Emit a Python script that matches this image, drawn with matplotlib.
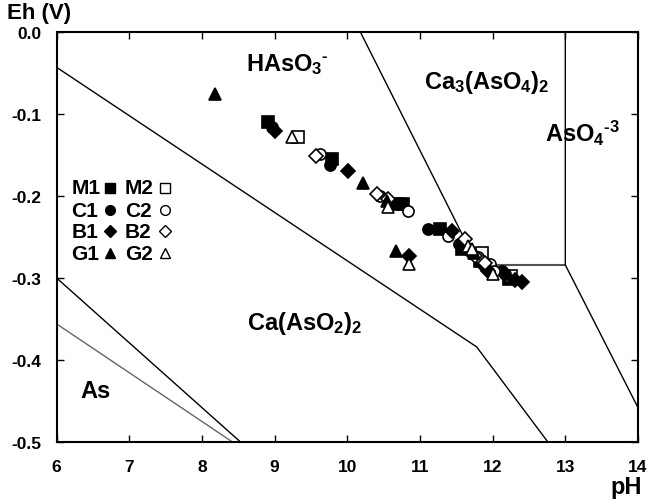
import matplotlib
matplotlib.use("Agg")
import matplotlib.pyplot as plt

plt.rcParams['font.family'] = ['Liberation Sans', 'DejaVu Sans']
plt.rcParams['font.weight'] = 'bold'
plt.rcParams['axes.unicode_minus'] = False
plt.rcParams['mathtext.fontset'] = 'custom'
plt.rcParams['mathtext.rm'] = 'Liberation Sans:bold'
plt.rcParams['mathtext.it'] = 'Liberation Sans:bold'
plt.rcParams['mathtext.bf'] = 'Liberation Sans:bold'
plt.rcParams['mathtext.default'] = 'rm'

# Messpunkte (pH, Eh) je Probe
m1_ph = [8.91, 9.79, 10.69, 10.77, 11.28, 11.58, 11.83, 12.22]
m1_eh = [-0.110, -0.155, -0.210, -0.210, -0.240, -0.265, -0.279, -0.301]
m2_ph = [9.32, 11.85, 12.25]
m2_eh = [-0.128, -0.270, -0.298]
c1_ph = [8.97, 9.76, 11.11, 11.53, 12.13, 12.17]
c1_eh = [-0.116, -0.162, -0.240, -0.259, -0.291, -0.295]
c2_ph = [9.63, 10.45, 10.84, 11.39, 11.80, 11.97, 12.02]
c2_eh = [-0.149, -0.200, -0.218, -0.249, -0.274, -0.283, -0.291]
b1_ph = [9.01, 10.01, 10.85, 11.44, 11.69, 11.89, 11.93, 12.31, 12.41]
b1_eh = [-0.121, -0.170, -0.273, -0.243, -0.268, -0.287, -0.291, -0.302, -0.305]
b2_ph = [9.57, 10.41, 10.56, 11.62, 11.76, 11.90]
b2_eh = [-0.151, -0.198, -0.204, -0.252, -0.273, -0.282]
g1_ph = [8.18, 10.22, 10.55, 10.67, 11.75]
g1_eh = [-0.076, -0.184, -0.206, -0.267, -0.270]
g2_ph = [9.24, 10.56, 10.85, 11.66, 11.72, 12.00]
g2_eh = [-0.128, -0.213, -0.283, -0.261, -0.265, -0.295]

# Stabilitaetsgrenzen
line_a_ph = [6, 11.78, 12.76]
line_a_eh = [-0.043, -0.384, -0.5]
line_b_ph = [6, 8.53]
line_b_eh = [-0.3, -0.5]
line_c_ph = [6, 8.42]
line_c_eh = [-0.356, -0.5]
line_d_ph = [10.18, 11.6, 11.98]
line_d_eh = [0.0, -0.25, -0.284]
line_e_ph = [11.98, 13.0]
line_e_eh = [-0.284, -0.284]
line_f_ph = [13.0, 13.0, 14.0]
line_f_eh = [0.0, -0.284, -0.458]

fig = plt.figure(figsize=(6.5, 5.02), dpi=100)
ax = fig.add_axes([0.0872, 0.1175, 0.8943, 0.8165])

ax.plot(line_a_ph, line_a_eh, color="black", lw=1.0)
ax.plot(line_b_ph, line_b_eh, color="black", lw=1.0)
ax.plot(line_c_ph, line_c_eh, color="#666666", lw=1.0)
ax.plot(line_d_ph, line_d_eh, color="black", lw=1.0)
ax.plot(line_e_ph, line_e_eh, color="#555555", lw=1.5)
ax.plot(line_f_ph, line_f_eh, color="black", lw=1.0)

series = [
    ("M1", m1_ph, m1_eh, "s", "black"),
    ("M2", m2_ph, m2_eh, "s", "white"),
    ("C1", c1_ph, c1_eh, "o", "black"),
    ("C2", c2_ph, c2_eh, "o", "white"),
    ("B1", b1_ph, b1_eh, "D", "black"),
    ("B2", b2_ph, b2_eh, "D", "white"),
    ("G1", g1_ph, g1_eh, "^", "black"),
    ("G2", g2_ph, g2_eh, "^", "white"),
]
for name, xs, ys, mk, fc in series:
    size = 7 if mk == "D" else 8
    ax.plot(xs, ys, linestyle="none", marker=mk, markersize=size,
            markerfacecolor=fc, markeredgecolor="black", markeredgewidth=1.2, zorder=3)

# Legende von Hand, zwei Spalten
leg_rows = [-0.190, -0.217, -0.243, -0.270]
for i, (name, xs, ys, mk, fc) in enumerate(series):
    col = i % 2
    row = i // 2
    x_txt = 6.20 if col == 0 else 6.94
    x_mk = 6.73 if col == 0 else 7.49
    ax.text(x_txt, leg_rows[row], name, fontsize=15, fontweight="bold", ha="left", va="center")
    ax.plot([x_mk], [leg_rows[row]], marker=mk, markersize=6 if mk == "D" else 7,
            markerfacecolor=fc, markeredgecolor="black", markeredgewidth=1.0, linestyle="none")

# Bereichsbeschriftungen
ax.text(8.60, -0.038, r"$HAsO_3{}^{\text{-}}$", fontsize=17, ha="left", va="center")
ax.text(11.05, -0.060, r"$Ca_3(AsO_4)_2$", fontsize=17, ha="left", va="center")
ax.text(12.72, -0.122, r"$AsO_4{}^{\text{-3}}$", fontsize=17, ha="left", va="center")
ax.text(8.62, -0.354, r"$Ca(AsO_2)_2$", fontsize=17, ha="left", va="center")
ax.text(6.32, -0.437, "As", fontsize=17, fontweight="bold", ha="left", va="center")

ax.set_xlim(6, 14)
ax.set_ylim(-0.5, 0.0)
ax.set_xticks(range(6, 15))
ax.set_yticks([0.0, -0.1, -0.2, -0.3, -0.4, -0.5])
ax.set_yticklabels(["0.0", "-0.1", "-0.2", "-0.3", "-0.4", "-0.5"])
ax.tick_params(direction="in", length=5, width=1, top=True, right=True, labelsize=12.5)
ax.tick_params(axis="x", pad=12)
ax.tick_params(axis="y", pad=11)
for lab in ax.get_xticklabels() + ax.get_yticklabels():
    lab.set_fontweight("bold")
for sp in ax.spines.values():
    sp.set_linewidth(1.5)

fig.text(7 / 650, 1 - 14 / 502, "Eh (V)", fontsize=16, fontweight="bold", ha="left", va="center")
fig.text(642 / 650, 1 - 488 / 502, "pH", fontsize=17, fontweight="bold", ha="right", va="center")

fig.savefig("out.png", dpi=100)
